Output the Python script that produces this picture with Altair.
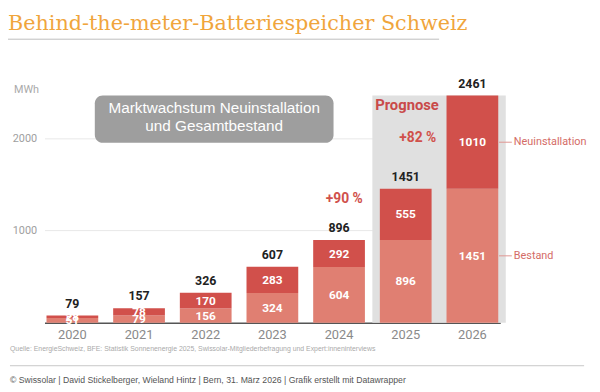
import altair as alt
import pandas as pd

years = ["2020", "2021", "2022", "2023", "2024", "2025", "2026"]
bestand = [51, 79, 156, 324, 604, 896, 1451]
neu = [28, 78, 170, 283, 292, 555, 1010]
totals = [79, 157, 326, 607, 896, 1451, 2461]
prognose_years = ["2025", "2026"]
growth_labels = ["+90 %", "+82 %"]

C_NEU = "#d1504b"
C_BEST = "#e07f72"
C_ANN = "#d0504b"
C_LEG = "#d46c66"

rows = []
for y, b, n in zip(years, bestand, neu):
    rows.append({"year": y, "series": "Bestand", "y0": 0, "y1": b, "mid": b / 2, "val": b})
    rows.append({"year": y, "series": "Neuinstallation", "y0": b, "y1": b + n, "mid": b + n / 2, "val": n})
df = pd.DataFrame(rows)
tot = pd.DataFrame({"year": years, "total": totals})
prog = pd.DataFrame({"year": prognose_years, "top": [totals[-1]] * len(prognose_years)})

W, H = 462, 234
xscale = alt.Scale(domain=years, paddingInner=0.224, paddingOuter=0.03)
yscale = alt.Scale(domain=[0, 2500], nice=False)

x_axis = alt.Axis(title=None, labelAngle=0, ticks=False, domainColor="#555555",
                  domainWidth=1.5, labelColor="#8a8a8a", labelFontSize=13,
                  labelPadding=6, labelFont="Roboto", grid=False)
y_axis = alt.Axis(title=None, values=[1000, 2000], format="d", ticks=False, domain=False,
                  labelColor="#a0a0a0", labelFontSize=11, labelPadding=8, labelFont="Roboto",
                  gridColor="#e8e8e8")

base = alt.Chart(df)

gray = alt.Chart(prog).mark_bar(color="#e0e0e0", width=alt.RelativeBandSize(1.29)).encode(
    x=alt.X("year:N", scale=xscale, sort=years, axis=x_axis),
    y=alt.Y("top:Q", scale=yscale, axis=y_axis),
    y2=alt.datum(0),
)

bars = base.mark_bar().encode(
    x=alt.X("year:N", scale=xscale, sort=years, axis=x_axis),
    y=alt.Y("y1:Q", scale=yscale, axis=y_axis),
    y2="y0:Q",
    color=alt.Color("series:N", scale=alt.Scale(domain=["Bestand", "Neuinstallation"],
                                                range=[C_BEST, C_NEU]), legend=None),
)

seg_text = base.mark_text(color="white", fontWeight="bold", fontSize=12, font="Roboto",
                          baseline="middle").encode(
    x=alt.X("year:N", scale=xscale, sort=years),
    y=alt.Y("mid:Q", scale=yscale),
    text="val:Q",
)

tot_text = alt.Chart(tot).mark_text(color="#222222", fontWeight="bold", fontSize=12.5,
                                    font="Roboto", baseline="bottom", dy=-5).encode(
    x=alt.X("year:N", scale=xscale, sort=years),
    y=alt.Y("total:Q", scale=yscale),
    text="total:Q",
)

ann_90 = alt.Chart().mark_text(text=growth_labels[0], color=C_ANN, fontWeight="bold", fontSize=14,
                               font="Roboto", align="right", baseline="middle", dx=24).encode(
    x=alt.datum("2024", scale=xscale), y=alt.datum(1342, scale=yscale))
ann_82 = alt.Chart().mark_text(text=growth_labels[1], color=C_ANN, fontWeight="bold", fontSize=14,
                               font="Roboto", align="right", baseline="middle", dx=31).encode(
    x=alt.datum("2025", scale=xscale), y=alt.datum(2005, scale=yscale))
ann_prog = alt.Chart().mark_text(text="Prognose", color="#c94a4a", fontWeight="bold", fontSize=15,
                                 font="Roboto", align="left", baseline="middle", dx=-31).encode(
    x=alt.datum("2025", scale=xscale), y=alt.datum(2358, scale=yscale))

mid_neu = bestand[-1] + neu[-1] / 2
mid_best = bestand[-1] / 2
leg_lines = alt.Chart(pd.DataFrame({"m": [mid_neu, mid_best]})).mark_rule(
    color="#e09590", strokeWidth=1, xOffset=27, x2Offset=40).encode(
    x=alt.datum("2026", scale=xscale), x2=alt.datum("2026"), y=alt.Y("m:Q", scale=yscale))
leg_text = alt.Chart(pd.DataFrame({"m": [mid_neu, mid_best],
                                   "t": ["Neuinstallation", "Bestand"]})).mark_text(
    color=C_LEG, fontSize=11, font="Roboto", align="left", baseline="middle", dx=42).encode(
    x=alt.datum("2026", scale=xscale), y=alt.Y("m:Q", scale=yscale), text="t:N")

box = alt.Chart().mark_rect(color="#9e9e9e", cornerRadius=8).encode(
    x=alt.value(51), x2=alt.value(293), y=alt.value(3.5), y2=alt.value(51.5))
box_text = alt.Chart().mark_text(text=["Marktwachstum Neuinstallation", "und Gesamtbestand"],
                                 color="white", fontSize=15.5, font="Liberation Sans",
                                 lineHeight=19, align="center", baseline="top").encode(
    x=alt.value(172), y=alt.value(9))

mwh = alt.Chart().mark_text(text="MWh", color="#aaaaaa", fontSize=11, font="Roboto",
                            align="left", baseline="middle").encode(x=alt.value(-31), y=alt.value(-1.5))

title = alt.Chart().mark_text(text="Behind-the-meter-Batteriespeicher Schweiz", color="#f0a53c",
                              fontSize=21, font="DejaVu Serif", fontWeight=300, align="left",
                              baseline="alphabetic").encode(x=alt.value(-37), y=alt.value(-63))
title_rule = alt.Chart().mark_rule(color="#bdbdbd", strokeWidth=1).encode(
    x=alt.value(-37), x2=alt.value(400), y=alt.value(-53.5))

source = alt.Chart().mark_text(
    text="Quelle: EnergieSchweiz, BFE: Statistik Sonnenenergie 2025, Swissolar-Mitgliederbefragung und Expert:inneninterviews",
    color="#aaaaaa", fontSize=7, font="Liberation Sans", align="left", baseline="middle").encode(
    x=alt.value(-35), y=alt.value(260.5))
foot_rule = alt.Chart().mark_rule(color="#c8c8c8", strokeWidth=1).encode(
    x=alt.value(-35), x2=alt.value(547), y=alt.value(277.5))
footer = alt.Chart().mark_text(
    text="© Swissolar | David Stickelberger, Wieland Hintz |  Bern, 31. März 2026 | Grafik erstellt mit Datawrapper",
    color="#555555", fontSize=8.8, font="Liberation Sans",
    align="left", baseline="middle").encode(
    x=alt.value(-35), y=alt.value(291.5))

chart = alt.layer(
    gray, bars, seg_text, tot_text, ann_90, ann_82, ann_prog, leg_lines, leg_text,
    box, box_text, mwh, title, title_rule, source, foot_rule, footer,
).properties(
    width=W, height=H,
    autosize=alt.AutoSizeParams(type="none"),
    padding={"left": 37, "top": 82.5, "right": 93, "bottom": 67.5},
    background="white",
).configure_view(stroke=None)

chart.save("out.html", embed_options={"renderer": "svg", "actions": False})
